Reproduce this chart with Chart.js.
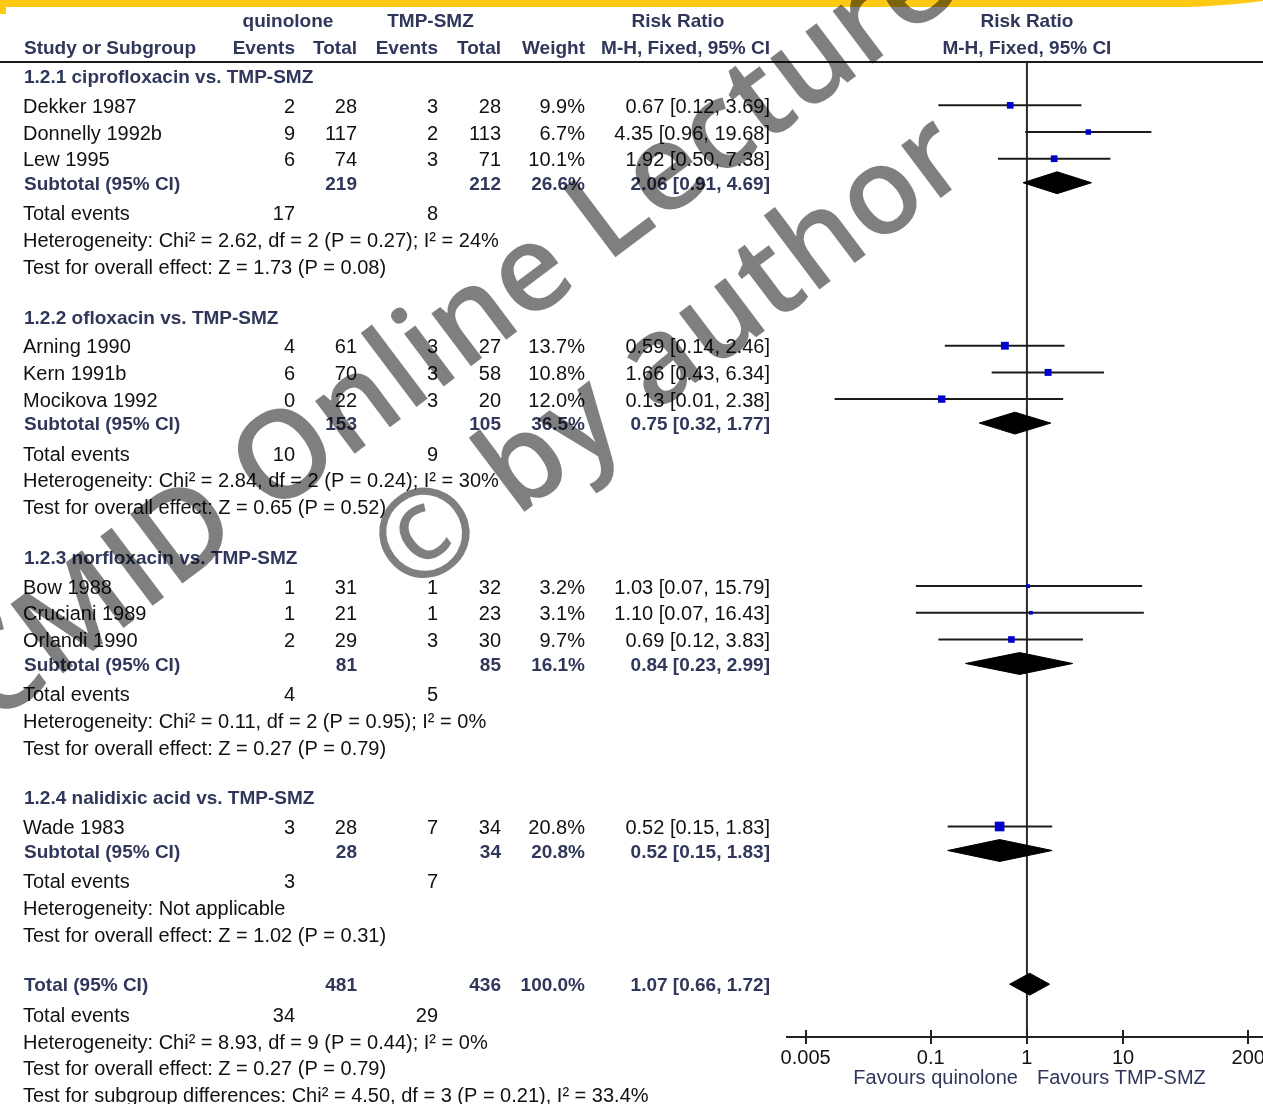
<!DOCTYPE html>
<html>
<head>
<meta charset="utf-8">
<script src="https://cdn.jsdelivr.net/npm/chart.js@4.4.1/dist/chart.umd.min.js"></script>
<style>
  html, body { margin: 0; padding: 0; background: #fff; }
  canvas { display: block; }
</style>
</head>
<body>
<canvas id="forest" width="1263" height="1104"></canvas>
<script>
// ---------- study-level data ----------
const studyNames   = ['Dekker 1987', 'Donnelly 1992b', 'Lew 1995',
                      'Arning 1990', 'Kern 1991b', 'Mocikova 1992',
                      'Bow 1988', 'Cruciani 1989', 'Orlandi 1990',
                      'Wade 1983'];
const studyGroup   = [0, 0, 0, 1, 1, 1, 2, 2, 2, 3];
const quinEvents   = [2, 9, 6, 4, 6, 0, 1, 1, 2, 3];
const quinTotal    = [28, 117, 74, 61, 70, 22, 31, 21, 29, 28];
const tmpEvents    = [3, 2, 3, 3, 3, 3, 1, 1, 3, 7];
const tmpTotal     = [28, 113, 71, 27, 58, 20, 32, 23, 30, 34];
const studyWeight  = [9.9, 6.7, 10.1, 13.7, 10.8, 12.0, 3.2, 3.1, 9.7, 20.8];
const studyRR      = [0.67, 4.35, 1.92, 0.59, 1.66, 0.13, 1.03, 1.10, 0.69, 0.52];
const studyLo      = [0.12, 0.96, 0.50, 0.14, 0.43, 0.01, 0.07, 0.07, 0.12, 0.15];
const studyHi      = [3.69, 19.68, 7.38, 2.46, 6.34, 2.38, 15.79, 16.43, 3.83, 1.83];

// ---------- subgroup data ----------
const groupNames     = ['1.2.1 ciprofloxacin vs. TMP-SMZ', '1.2.2 ofloxacin vs. TMP-SMZ',
                        '1.2.3 norfloxacin vs. TMP-SMZ', '1.2.4 nalidixic acid vs. TMP-SMZ'];
const groupQuinTotal = [219, 153, 81, 28];
const groupTmpTotal  = [212, 105, 85, 34];
const groupQuinEv    = [17, 10, 4, 3];
const groupTmpEv     = [8, 9, 5, 7];
const groupWeight    = [26.6, 36.5, 16.1, 20.8];
const groupRR        = [2.06, 0.75, 0.84, 0.52];
const groupLo        = [0.91, 0.32, 0.23, 0.15];
const groupHi        = [4.69, 1.77, 2.99, 1.83];
const groupHet       = ['Heterogeneity: Chi\u00B2 = 2.62, df = 2 (P = 0.27); I\u00B2 = 24%',
                        'Heterogeneity: Chi\u00B2 = 2.84, df = 2 (P = 0.24); I\u00B2 = 30%',
                        'Heterogeneity: Chi\u00B2 = 0.11, df = 2 (P = 0.95); I\u00B2 = 0%',
                        'Heterogeneity: Not applicable'];
const groupTest      = ['Test for overall effect: Z = 1.73 (P = 0.08)',
                        'Test for overall effect: Z = 0.65 (P = 0.52)',
                        'Test for overall effect: Z = 0.27 (P = 0.79)',
                        'Test for overall effect: Z = 1.02 (P = 0.31)'];

// ---------- pooled total ----------
const totalQuin   = 481;
const totalTmp    = 436;
const totalQuinEv = 34;
const totalTmpEv  = 29;
const totalWeight = 100.0;
const totalRR     = 1.07;
const totalLo     = 0.66;
const totalHi     = 1.72;
const totalHet    = 'Heterogeneity: Chi\u00B2 = 8.93, df = 9 (P = 0.44); I\u00B2 = 0%';
const totalTest   = 'Test for overall effect: Z = 0.27 (P = 0.79)';
const subgroupTest = 'Test for subgroup differences: Chi\u00B2 = 4.50, df = 3 (P = 0.21), I\u00B2 = 33.4%';

// ---------- axis ----------
const tickValues = [0.005, 0.1, 1, 10, 200];
const tickLabels = ['0.005', '0.1', '1', '10', '200'];
const favourLeft  = 'Favours quinolone';
const favourRight = 'Favours TMP-SMZ';
const wmLines = ['CMID Online Lecture', '\u00A9 by author'];

// ---------- row layout (in line units) ----------
const STEP = { toStudy: 1.10, study: 1.0, toSubtotal: 0.90, toEvents: 1.13, line: 1.0, toBlock: 1.88 };
const rows = [];
const studyPos = [], groupPos = [];
let pos = 0;
for (let g = 0; g < groupNames.length; g++) {
  if (g > 0) pos += STEP.toBlock;
  rows.push({ kind: 'group', g, pos });
  let first = true;
  studyNames.forEach((n, i) => {
    if (studyGroup[i] !== g) return;
    pos += first ? STEP.toStudy : STEP.study;
    first = false;
    studyPos[i] = pos;
    rows.push({ kind: 'study', i, pos });
  });
  pos += STEP.toSubtotal; groupPos[g] = pos; rows.push({ kind: 'subtotal', g, pos });
  pos += STEP.toEvents; rows.push({ kind: 'events', g, pos });
  pos += STEP.line;     rows.push({ kind: 'het', g, pos });
  pos += STEP.line;     rows.push({ kind: 'test', g, pos });
}
pos += STEP.toBlock; const totalPos = pos; rows.push({ kind: 'total', pos });
pos += STEP.toEvents; rows.push({ kind: 'totalEvents', pos });
pos += STEP.line;     rows.push({ kind: 'totalHet', pos });
pos += STEP.line;     rows.push({ kind: 'totalTest', pos });
pos += STEP.line;     rows.push({ kind: 'subgroupTest', pos });
const headerPos1 = -2.02, headerPos2 = -1.01;

// ---------- styling ----------
const NAVY = '#30375a';
const INK = '#111111';
const FONT_N = '20px "Liberation Sans", Arial, sans-serif';
const FONT_B = 'bold 19px "Liberation Sans", Arial, sans-serif';
const COL = { name: 23, qEv: 295, qTot: 357, tEv: 438, tTot: 501, wt: 585, ci: 770 };
const DIAMOND_HALF = 0.41;   // half height of summary diamonds, line units

const fmtCI = (r, l, h) => r.toFixed(2) + ' [' + l.toFixed(2) + ', ' + h.toFixed(2) + ']';
const fmtW = w => w.toFixed(1) + '%';

function diamond(lo, est, hi, y) {
  return [{ x: lo, y }, { x: est, y: y - DIAMOND_HALF }, { x: hi, y },
          { x: est, y: y + DIAMOND_HALF }, { x: lo, y }];
}

// ---------- datasets ----------
const datasets = [];
datasets.push({
  type: 'scatter', label: 'Study estimate',
  data: studyNames.map((n, i) => ({ x: studyRR[i], y: studyPos[i] })),
  pointStyle: 'rect',
  pointRadius: studyWeight.map(w => 1.5 * Math.sqrt(w)),
  pointHoverRadius: studyWeight.map(w => 1.5 * Math.sqrt(w)),
  backgroundColor: '#0000cc', borderWidth: 0
});
studyNames.forEach((n, i) => datasets.push({
  type: 'line', label: n + ' 95% CI',
  data: [{ x: studyLo[i], y: studyPos[i] }, { x: studyHi[i], y: studyPos[i] }],
  borderColor: '#1c1c1c', borderWidth: 2, pointRadius: 0, fill: false
}));
groupNames.forEach((n, g) => datasets.push({
  type: 'line', label: n + ' subtotal',
  data: diamond(groupLo[g], groupRR[g], groupHi[g], groupPos[g]),
  borderColor: '#000', backgroundColor: '#000', borderWidth: 1,
  pointRadius: 0, fill: 'shape', tension: 0
}));
datasets.push({
  type: 'line', label: 'Total',
  data: diamond(totalLo, totalRR, totalHi, totalPos),
  borderColor: '#000', backgroundColor: '#000', borderWidth: 1,
  pointRadius: 0, fill: 'shape', tension: 0
});

// ---------- drawing of table, frame and watermark ----------
const forestDecor = {
  id: 'forestDecor',
  beforeDraw(chart) {
    const { ctx, width } = chart;
    ctx.save();
    ctx.fillStyle = '#ffffff';
    ctx.fillRect(0, 0, width, chart.height);
    // slide banner
    ctx.fillStyle = '#fdc913';
    ctx.beginPath();
    ctx.moveTo(0, 0); ctx.lineTo(width, 0); ctx.lineTo(width, 1);
    ctx.quadraticCurveTo(1210, 7, 1180, 7);
    ctx.lineTo(6, 7); ctx.lineTo(6, 14); ctx.lineTo(0, 14);
    ctx.closePath(); ctx.fill();
    // header rule
    ctx.strokeStyle = '#1a1a1a'; ctx.lineWidth = 2;
    ctx.beginPath();
    ctx.moveTo(0, chart.chartArea.top); ctx.lineTo(width, chart.chartArea.top);
    ctx.stroke();
    ctx.restore();
  },
  beforeDatasetsDraw(chart) {
    const { ctx, chartArea } = chart;
    const xs = chart.scales.x;
    const x1 = xs.getPixelForValue(1);
    ctx.save();
    ctx.strokeStyle = '#2a2a2a'; ctx.lineWidth = 2;
    ctx.beginPath();
    ctx.moveTo(x1, chartArea.top); ctx.lineTo(x1, chartArea.bottom);
    ctx.stroke();
    // upper half of the axis tick marks
    ctx.strokeStyle = '#222'; ctx.lineWidth = 2;
    tickValues.forEach(v => {
      const x = Math.round(xs.getPixelForValue(v));
      ctx.beginPath();
      ctx.moveTo(x, chartArea.bottom); ctx.lineTo(x, chartArea.bottom - 7);
      ctx.stroke();
    });
    ctx.restore();
  },
  afterDraw(chart) {
    const { ctx, chartArea } = chart;
    const ys = chart.scales.y, xs = chart.scales.x;
    const Y = p => ys.getPixelForValue(p) + 2;
    ctx.save();
    ctx.textBaseline = 'middle';
    const put = (s, x, y, align, bold, color) => {
      ctx.font = bold ? FONT_B : FONT_N;
      ctx.fillStyle = color || (bold ? NAVY : INK);
      ctx.textAlign = align;
      ctx.fillText(String(s), x, y);
    };
    // column headings
    const x1 = xs.getPixelForValue(1);
    let y = ys.getPixelForValue(headerPos1);
    put('quinolone', (COL.qEv + COL.qTot) / 2 - 38, y, 'center', true);
    put('TMP-SMZ', (COL.tEv + COL.tTot) / 2 - 39, y, 'center', true);
    put('Risk Ratio', 678, y, 'center', true);
    put('Risk Ratio', x1, y, 'center', true);
    y = ys.getPixelForValue(headerPos2);
    put('Study or Subgroup', COL.name + 1, y, 'left', true);
    put('Events', COL.qEv, y, 'right', true);
    put('Total', COL.qTot, y, 'right', true);
    put('Events', COL.tEv, y, 'right', true);
    put('Total', COL.tTot, y, 'right', true);
    put('Weight', COL.wt, y, 'right', true);
    put('M-H, Fixed, 95% CI', COL.ci, y, 'right', true);
    put('M-H, Fixed, 95% CI', x1, y, 'center', true);

    rows.forEach(r => {
      const yy = Y(r.pos);
      switch (r.kind) {
        case 'group':
          put(groupNames[r.g], COL.name + 1, yy, 'left', true); break;
        case 'study': {
          const i = r.i;
          put(studyNames[i], COL.name, yy, 'left', false);
          put(quinEvents[i], COL.qEv, yy, 'right', false);
          put(quinTotal[i], COL.qTot, yy, 'right', false);
          put(tmpEvents[i], COL.tEv, yy, 'right', false);
          put(tmpTotal[i], COL.tTot, yy, 'right', false);
          put(fmtW(studyWeight[i]), COL.wt, yy, 'right', false);
          put(fmtCI(studyRR[i], studyLo[i], studyHi[i]), COL.ci, yy, 'right', false);
          break;
        }
        case 'subtotal': {
          const g = r.g;
          put('Subtotal (95% CI)', COL.name + 1, yy, 'left', true);
          put(groupQuinTotal[g], COL.qTot, yy, 'right', true);
          put(groupTmpTotal[g], COL.tTot, yy, 'right', true);
          put(fmtW(groupWeight[g]), COL.wt, yy, 'right', true);
          put(fmtCI(groupRR[g], groupLo[g], groupHi[g]), COL.ci, yy, 'right', true);
          break;
        }
        case 'events':
          put('Total events', COL.name, yy, 'left', false);
          put(groupQuinEv[r.g], COL.qEv, yy, 'right', false);
          put(groupTmpEv[r.g], COL.tEv, yy, 'right', false);
          break;
        case 'het':  put(groupHet[r.g], COL.name, yy, 'left', false); break;
        case 'test': put(groupTest[r.g], COL.name, yy, 'left', false); break;
        case 'total':
          put('Total (95% CI)', COL.name + 1, yy, 'left', true);
          put(totalQuin, COL.qTot, yy, 'right', true);
          put(totalTmp, COL.tTot, yy, 'right', true);
          put(fmtW(totalWeight), COL.wt, yy, 'right', true);
          put(fmtCI(totalRR, totalLo, totalHi), COL.ci, yy, 'right', true);
          break;
        case 'totalEvents':
          put('Total events', COL.name, yy, 'left', false);
          put(totalQuinEv, COL.qEv, yy, 'right', false);
          put(totalTmpEv, COL.tEv, yy, 'right', false);
          break;
        case 'totalHet':     put(totalHet, COL.name, yy, 'left', false); break;
        case 'totalTest':    put(totalTest, COL.name, yy, 'left', false); break;
        case 'subgroupTest': put(subgroupTest, COL.name, yy, 'left', false); break;
      }
    });

    // favours captions under the axis
    const fy = chartArea.bottom + 41;
    put(favourLeft, x1 - 9, fy, 'right', false, NAVY);
    put(favourRight, x1 + 10, fy, 'left', false, NAVY);
    ctx.restore();

    // watermark
    ctx.save();
    ctx.fillStyle = 'rgba(0,0,0,0.5)';
    ctx.font = '600 122px "Open Sans", "Noto Sans", sans-serif';
    ctx.textAlign = 'left';
    ctx.textBaseline = 'alphabetic';
    [[wmLines[0], -8, 727], [wmLines[1], 410, 598]].forEach(([s, x, yy]) => {
      ctx.save();
      ctx.translate(x, yy);
      ctx.rotate(-37 * Math.PI / 180);
      ctx.fillText(s, 0, 0);
      ctx.restore();
    });
    ctx.restore();
  }
};

new Chart(document.getElementById('forest'), {
  type: 'scatter',
  data: { datasets },
  options: {
    responsive: false,
    animation: false,
    events: [],
    layout: { autoPadding: false, padding: { left: 787, right: 0, top: 62, bottom: 22 } },
    plugins: { legend: { display: false }, tooltip: { enabled: false } },
    scales: {
      x: {
        type: 'logarithmic', position: 'bottom',
        min: 0.0032, max: 285, bounds: 'data',
        afterBuildTicks: s => { s.ticks = tickValues.map(v => ({ value: v })); },
        afterFit: s => { s.height = 45; s.paddingLeft = 0; s.paddingRight = 0; },
        ticks: {
          autoSkip: false, maxRotation: 0, minRotation: 0, padding: 2,
          color: INK, font: { family: '"Liberation Sans", Arial, sans-serif', size: 20 },
          callback: (v, i) => tickLabels[i]
        },
        grid: { display: true, drawOnChartArea: false, drawTicks: true, tickLength: 7, color: '#222', lineWidth: 2 },
        border: { display: true, color: '#222', width: 2 }
      },
      y: { type: 'linear', display: false, reverse: true, min: -0.525, max: 36.02 }
    }
  },
  plugins: [forestDecor]
});
</script>
</body>
</html>
